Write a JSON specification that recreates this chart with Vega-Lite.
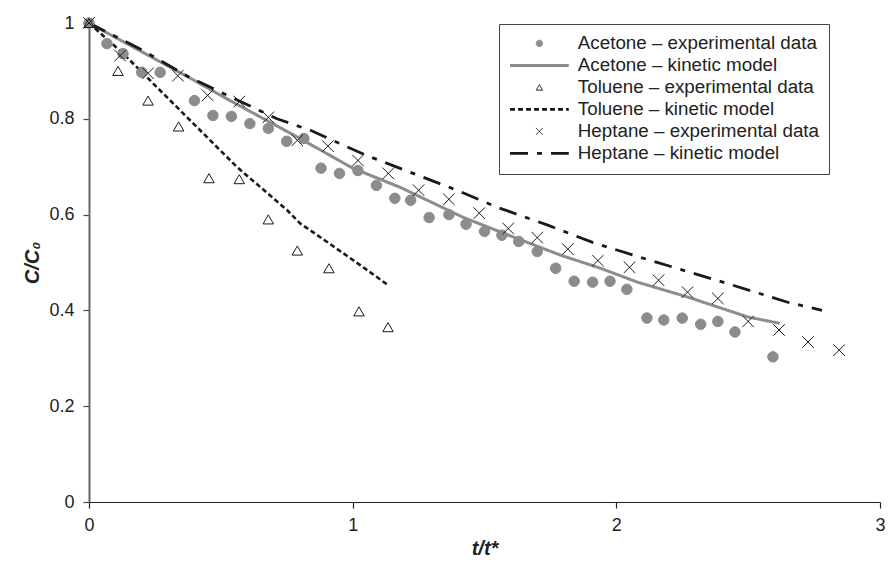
{
  "$schema": "https://vega.github.io/schema/vega-lite/v6.json",
  "width": 791,
  "height": 479,
  "autosize": {"type": "none"},
  "padding": {"left": 89, "top": 23, "right": 8, "bottom": 63},
  "background": "white",
  "config": {
    "view": {"stroke": null},
    "font": "Liberation Sans",
    "axis": {
      "grid": false,
      "labelFont": "Liberation Sans",
      "labelFontSize": 18,
      "labelColor": "#222",
      "tickSize": 6,
      "titleFont": "Liberation Sans",
      "titleFontSize": 20,
      "titleFontWeight": "bold",
      "titleFontStyle": "italic",
      "titleColor": "#222",
      "labelFlush": false
    },
    "legend": {
      "orient": "none",
      "legendX": 410,
      "legendY": 1,
      "padding": 10,
      "rowPadding": 2,
      "strokeColor": "#444",
      "fillColor": "white",
      "labelFont": "Liberation Sans",
      "labelFontSize": 18.8,
      "labelColor": "#222",
      "symbolSize": 40,
      "symbolOffset": 21,
      "labelOffset": 29,
      "labelLimit": 500
    }
  },
  "datasets": {
    "exp": [
      {"s": "Acetone – experimental data", "x": 0, "y": 1.0},
      {"s": "Acetone – experimental data", "x": 0.068, "y": 0.957},
      {"s": "Acetone – experimental data", "x": 0.129, "y": 0.936},
      {"s": "Acetone – experimental data", "x": 0.2, "y": 0.897},
      {"s": "Acetone – experimental data", "x": 0.27, "y": 0.897},
      {"s": "Acetone – experimental data", "x": 0.4, "y": 0.838},
      {"s": "Acetone – experimental data", "x": 0.47, "y": 0.807},
      {"s": "Acetone – experimental data", "x": 0.54, "y": 0.805},
      {"s": "Acetone – experimental data", "x": 0.61, "y": 0.79},
      {"s": "Acetone – experimental data", "x": 0.68, "y": 0.78},
      {"s": "Acetone – experimental data", "x": 0.75, "y": 0.753},
      {"s": "Acetone – experimental data", "x": 0.815, "y": 0.759},
      {"s": "Acetone – experimental data", "x": 0.88, "y": 0.697},
      {"s": "Acetone – experimental data", "x": 0.95, "y": 0.686},
      {"s": "Acetone – experimental data", "x": 1.02, "y": 0.692},
      {"s": "Acetone – experimental data", "x": 1.09, "y": 0.661},
      {"s": "Acetone – experimental data", "x": 1.16, "y": 0.634},
      {"s": "Acetone – experimental data", "x": 1.22, "y": 0.63},
      {"s": "Acetone – experimental data", "x": 1.29, "y": 0.594},
      {"s": "Acetone – experimental data", "x": 1.365, "y": 0.6},
      {"s": "Acetone – experimental data", "x": 1.43, "y": 0.58},
      {"s": "Acetone – experimental data", "x": 1.5, "y": 0.565},
      {"s": "Acetone – experimental data", "x": 1.566, "y": 0.557},
      {"s": "Acetone – experimental data", "x": 1.63, "y": 0.544},
      {"s": "Acetone – experimental data", "x": 1.7, "y": 0.523},
      {"s": "Acetone – experimental data", "x": 1.77, "y": 0.488},
      {"s": "Acetone – experimental data", "x": 1.84, "y": 0.461},
      {"s": "Acetone – experimental data", "x": 1.91, "y": 0.459},
      {"s": "Acetone – experimental data", "x": 1.976, "y": 0.461},
      {"s": "Acetone – experimental data", "x": 2.04, "y": 0.444},
      {"s": "Acetone – experimental data", "x": 2.116, "y": 0.384},
      {"s": "Acetone – experimental data", "x": 2.18, "y": 0.38},
      {"s": "Acetone – experimental data", "x": 2.25, "y": 0.384},
      {"s": "Acetone – experimental data", "x": 2.32, "y": 0.371},
      {"s": "Acetone – experimental data", "x": 2.385, "y": 0.377},
      {"s": "Acetone – experimental data", "x": 2.45, "y": 0.355},
      {"s": "Acetone – experimental data", "x": 2.594, "y": 0.303},
      {"s": "Toluene – experimental data", "x": 0, "y": 1.0},
      {"s": "Toluene – experimental data", "x": 0.11, "y": 0.9},
      {"s": "Toluene – experimental data", "x": 0.224, "y": 0.838},
      {"s": "Toluene – experimental data", "x": 0.34, "y": 0.784},
      {"s": "Toluene – experimental data", "x": 0.455, "y": 0.676},
      {"s": "Toluene – experimental data", "x": 0.57, "y": 0.674},
      {"s": "Toluene – experimental data", "x": 0.68, "y": 0.59},
      {"s": "Toluene – experimental data", "x": 0.79, "y": 0.525},
      {"s": "Toluene – experimental data", "x": 0.91, "y": 0.488},
      {"s": "Toluene – experimental data", "x": 1.024, "y": 0.398},
      {"s": "Toluene – experimental data", "x": 1.134, "y": 0.365},
      {"s": "Heptane – experimental data", "x": 0, "y": 1.0},
      {"s": "Heptane – experimental data", "x": 0.118, "y": 0.932},
      {"s": "Heptane – experimental data", "x": 0.224, "y": 0.895},
      {"s": "Heptane – experimental data", "x": 0.337, "y": 0.89},
      {"s": "Heptane – experimental data", "x": 0.45, "y": 0.849},
      {"s": "Heptane – experimental data", "x": 0.57, "y": 0.836},
      {"s": "Heptane – experimental data", "x": 0.68, "y": 0.803},
      {"s": "Heptane – experimental data", "x": 0.79, "y": 0.755},
      {"s": "Heptane – experimental data", "x": 0.906, "y": 0.743},
      {"s": "Heptane – experimental data", "x": 1.02, "y": 0.713},
      {"s": "Heptane – experimental data", "x": 1.135, "y": 0.686},
      {"s": "Heptane – experimental data", "x": 1.25, "y": 0.651},
      {"s": "Heptane – experimental data", "x": 1.365, "y": 0.632},
      {"s": "Heptane – experimental data", "x": 1.48, "y": 0.603},
      {"s": "Heptane – experimental data", "x": 1.59, "y": 0.571},
      {"s": "Heptane – experimental data", "x": 1.7, "y": 0.552},
      {"s": "Heptane – experimental data", "x": 1.816, "y": 0.528},
      {"s": "Heptane – experimental data", "x": 1.93, "y": 0.504},
      {"s": "Heptane – experimental data", "x": 2.05, "y": 0.49},
      {"s": "Heptane – experimental data", "x": 2.16, "y": 0.463},
      {"s": "Heptane – experimental data", "x": 2.27, "y": 0.438},
      {"s": "Heptane – experimental data", "x": 2.385, "y": 0.425},
      {"s": "Heptane – experimental data", "x": 2.5, "y": 0.377},
      {"s": "Heptane – experimental data", "x": 2.617, "y": 0.359},
      {"s": "Heptane – experimental data", "x": 2.727, "y": 0.334},
      {"s": "Heptane – experimental data", "x": 2.845, "y": 0.317}
    ],
    "model": [
      {"s": "Acetone – kinetic model", "x": 0, "y": 1.0},
      {"s": "Acetone – kinetic model", "x": 0.2, "y": 0.94},
      {"s": "Acetone – kinetic model", "x": 0.4, "y": 0.88},
      {"s": "Acetone – kinetic model", "x": 0.535, "y": 0.838},
      {"s": "Acetone – kinetic model", "x": 0.79, "y": 0.762},
      {"s": "Acetone – kinetic model", "x": 1.0, "y": 0.697},
      {"s": "Acetone – kinetic model", "x": 1.18, "y": 0.657},
      {"s": "Acetone – kinetic model", "x": 1.42, "y": 0.594},
      {"s": "Acetone – kinetic model", "x": 1.61, "y": 0.553},
      {"s": "Acetone – kinetic model", "x": 1.79, "y": 0.515},
      {"s": "Acetone – kinetic model", "x": 1.94, "y": 0.488},
      {"s": "Acetone – kinetic model", "x": 2.08, "y": 0.459},
      {"s": "Acetone – kinetic model", "x": 2.27, "y": 0.428},
      {"s": "Acetone – kinetic model", "x": 2.5, "y": 0.386},
      {"s": "Acetone – kinetic model", "x": 2.62, "y": 0.373},
      {"s": "Toluene – kinetic model", "x": 0, "y": 1.0},
      {"s": "Toluene – kinetic model", "x": 0.13, "y": 0.936},
      {"s": "Toluene – kinetic model", "x": 0.345, "y": 0.818},
      {"s": "Toluene – kinetic model", "x": 0.56, "y": 0.7},
      {"s": "Toluene – kinetic model", "x": 0.75, "y": 0.61},
      {"s": "Toluene – kinetic model", "x": 0.8, "y": 0.582},
      {"s": "Toluene – kinetic model", "x": 0.895, "y": 0.546},
      {"s": "Toluene – kinetic model", "x": 1.03, "y": 0.494},
      {"s": "Toluene – kinetic model", "x": 1.134, "y": 0.453},
      {"s": "Heptane – kinetic model", "x": 0, "y": 1.0},
      {"s": "Heptane – kinetic model", "x": 0.19, "y": 0.947},
      {"s": "Heptane – kinetic model", "x": 0.383, "y": 0.886},
      {"s": "Heptane – kinetic model", "x": 0.713, "y": 0.8},
      {"s": "Heptane – kinetic model", "x": 0.84, "y": 0.776},
      {"s": "Heptane – kinetic model", "x": 1.05, "y": 0.724},
      {"s": "Heptane – kinetic model", "x": 1.395, "y": 0.651},
      {"s": "Heptane – kinetic model", "x": 1.55, "y": 0.615},
      {"s": "Heptane – kinetic model", "x": 1.74, "y": 0.578},
      {"s": "Heptane – kinetic model", "x": 1.91, "y": 0.542},
      {"s": "Heptane – kinetic model", "x": 2.09, "y": 0.511},
      {"s": "Heptane – kinetic model", "x": 2.44, "y": 0.453},
      {"s": "Heptane – kinetic model", "x": 2.65, "y": 0.417},
      {"s": "Heptane – kinetic model", "x": 2.78, "y": 0.4}
    ]
  },
  "encoding": {
    "x": {
      "field": "x", "type": "quantitative",
      "scale": {"domain": [0, 3], "nice": false, "zero": false},
      "axis": {"title": "t/t*", "values": [0, 1, 2, 3], "format": "d", "labelPadding": 8, "titlePadding": 4, "domainColor": "#222", "tickColor": "#222", "domainWidth": 1.2, "tickWidth": 1.2}
    },
    "y": {
      "field": "y", "type": "quantitative",
      "scale": {"domain": [0, 1], "nice": false},
      "axis": {"title": "C/C₀", "values": [0, 0.2, 0.4, 0.6, 0.8, 1], "format": "~g", "labelPadding": 9, "titlePadding": 6, "domainColor": "#666", "tickColor": "#444", "domainWidth": 2, "tickWidth": 1.2}
    }
  },
  "layer": [
    {
      "data": {"name": "model"},
      "mark": {"type": "line"},
      "encoding": {
        "color": {"field": "s", "type": "nominal",
          "scale": {"domain": ["Acetone – experimental data", "Acetone – kinetic model", "Toluene – experimental data", "Toluene – kinetic model", "Heptane – experimental data", "Heptane – kinetic model"],
                    "range": ["#8c8c8c", "#8c8c8c", "#1a1a1a", "#1a1a1a", "#1a1a1a", "#1a1a1a"]},
          "legend": {"title": null}},
        "strokeWidth": {"field": "s", "type": "nominal",
          "scale": {"type": "ordinal", "domain": ["Acetone – experimental data", "Acetone – kinetic model", "Toluene – experimental data", "Toluene – kinetic model", "Heptane – experimental data", "Heptane – kinetic model"],
                    "range": [1, 3, 1, 2.6, 1, 2.8]},
          "legend": {"title": null}},
        "strokeDash": {"field": "s", "type": "nominal",
          "scale": {"domain": ["Acetone – experimental data", "Acetone – kinetic model", "Toluene – experimental data", "Toluene – kinetic model", "Heptane – experimental data", "Heptane – kinetic model"],
                    "range": [[1, 0], [1, 0], [1, 0], [5, 3], [1, 0], [18, 9, 5, 9]]},
          "legend": {"title": null}}
      }
    },
    {
      "data": {"name": "exp"},
      "mark": {"type": "point", "filled": true, "opacity": 1, "strokeWidth": 1, "size": 110},
      "encoding": {
        "shape": {"field": "s", "type": "nominal",
          "scale": {"domain": ["Acetone – experimental data", "Acetone – kinetic model", "Toluene – experimental data", "Toluene – kinetic model", "Heptane – experimental data", "Heptane – kinetic model"],
                    "range": ["circle", "M-9.3,0L9.3,0", "triangle-up", "M-9.3,0L9.3,0", "M-1.1,-1.1L1.1,1.1M-1.1,1.1L1.1,-1.1", "M-9.3,0L9.3,0"]},
          "legend": {"title": null}},
        "fill": {"field": "s", "type": "nominal",
          "scale": {"domain": ["Acetone – experimental data", "Acetone – kinetic model", "Toluene – experimental data", "Toluene – kinetic model", "Heptane – experimental data", "Heptane – kinetic model"],
                    "range": ["#8c8c8c", "transparent", "transparent", "transparent", "transparent", "transparent"]},
          "legend": {"title": null}},
        "stroke": {"field": "s", "type": "nominal",
          "scale": {"domain": ["Acetone – experimental data", "Acetone – kinetic model", "Toluene – experimental data", "Toluene – kinetic model", "Heptane – experimental data", "Heptane – kinetic model"],
                    "range": ["#8c8c8c", "#8c8c8c", "#1a1a1a", "#1a1a1a", "#1a1a1a", "#1a1a1a"]},
          "legend": {"title": null}}
      }
    }
  ]
}
